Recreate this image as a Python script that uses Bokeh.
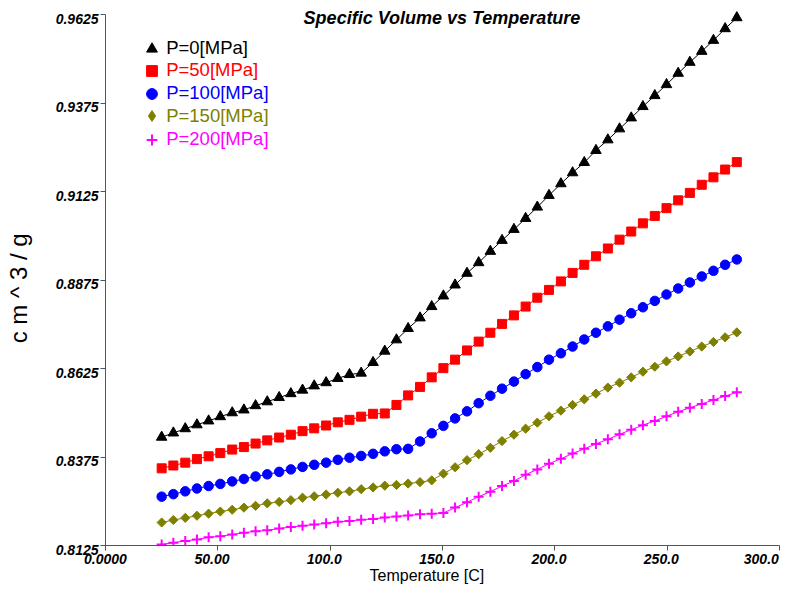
from bokeh.plotting import figure
from bokeh.models import Range1d, FixedTicker, Legend, LegendItem, Label
from bokeh.embed import file_html
from bokeh.resources import INLINE
import numpy as np

temperature = [25.0, 30.2, 35.5, 40.7, 45.9, 51.1, 56.4, 61.6, 66.8, 72.0,
               77.3, 82.5, 87.7, 92.9, 98.2, 103.4, 108.6, 113.8, 119.1, 124.3,
               129.5, 134.7, 140.0, 145.2, 150.4, 155.6, 160.9, 166.1, 171.3, 176.5,
               181.8, 187.0, 192.2, 197.4, 202.7, 207.9, 213.1, 218.3, 223.6, 228.8,
               234.0, 239.2, 244.5, 249.7, 254.9, 260.1, 265.4, 270.6, 275.8, 281.0]

p0 = [0.8431, 0.8443, 0.8455, 0.8466, 0.8477, 0.8489, 0.8500, 0.8508, 0.8520, 0.8531,
      0.8543, 0.8554, 0.8564, 0.8576, 0.8585, 0.8597, 0.8608, 0.8612, 0.8642, 0.8674,
      0.8706, 0.8738, 0.8768, 0.8800, 0.8830, 0.8861, 0.8894, 0.8924, 0.8956, 0.8987,
      0.9018, 0.9049, 0.9081, 0.9114, 0.9147, 0.9178, 0.9207, 0.9241, 0.9271, 0.9302,
      0.9333, 0.9365, 0.9396, 0.9427, 0.9459, 0.9490, 0.9521, 0.9552, 0.9585, 0.9616]

p50 = [0.8343, 0.8351, 0.8359, 0.8369, 0.8377, 0.8386, 0.8396, 0.8403, 0.8413, 0.8422,
       0.8430, 0.8438, 0.8448, 0.8456, 0.8464, 0.8473, 0.8480, 0.8489, 0.8497, 0.8498,
       0.8522, 0.8549, 0.8573, 0.8600, 0.8626, 0.8650, 0.8676, 0.8701, 0.8726, 0.8751,
       0.8775, 0.8800, 0.8825, 0.8847, 0.8871, 0.8895, 0.8918, 0.8942, 0.8964, 0.8989,
       0.9012, 0.9035, 0.9056, 0.9078, 0.9100, 0.9121, 0.9144, 0.9165, 0.9187, 0.9208]

p100 = [0.8263, 0.8270, 0.8278, 0.8286, 0.8293, 0.8299, 0.8306, 0.8313, 0.8320, 0.8326,
        0.8333, 0.8340, 0.8347, 0.8353, 0.8359, 0.8367, 0.8373, 0.8378, 0.8384, 0.8391,
        0.8397, 0.8398, 0.8419, 0.8442, 0.8463, 0.8484, 0.8504, 0.8527, 0.8548, 0.8568,
        0.8588, 0.8609, 0.8629, 0.8650, 0.8668, 0.8687, 0.8707, 0.8726, 0.8744, 0.8763,
        0.8781, 0.8798, 0.8816, 0.8834, 0.8851, 0.8868, 0.8885, 0.8901, 0.8918, 0.8933]

p150 = [0.8190, 0.8197, 0.8203, 0.8209, 0.8215, 0.8221, 0.8226, 0.8232, 0.8237, 0.8244,
        0.8248, 0.8253, 0.8260, 0.8264, 0.8269, 0.8274, 0.8278, 0.8284, 0.8289, 0.8294,
        0.8296, 0.8300, 0.8304, 0.8309, 0.8328, 0.8346, 0.8366, 0.8383, 0.8401, 0.8420,
        0.8438, 0.8455, 0.8472, 0.8490, 0.8506, 0.8522, 0.8538, 0.8554, 0.8571, 0.8585,
        0.8600, 0.8616, 0.8630, 0.8645, 0.8659, 0.8673, 0.8687, 0.8700, 0.8713, 0.8727]

p200 = [0.8128, 0.8133, 0.8138, 0.8142, 0.8148, 0.8151, 0.8156, 0.8161, 0.8165, 0.8168,
        0.8173, 0.8177, 0.8181, 0.8184, 0.8188, 0.8192, 0.8194, 0.8198, 0.8200, 0.8204,
        0.8207, 0.8210, 0.8213, 0.8215, 0.8217, 0.8232, 0.8247, 0.8263, 0.8277, 0.8293,
        0.8307, 0.8325, 0.8340, 0.8356, 0.8370, 0.8385, 0.8398, 0.8412, 0.8425, 0.8439,
        0.8452, 0.8465, 0.8477, 0.8490, 0.8503, 0.8514, 0.8525, 0.8536, 0.8547, 0.8558]

series_labels = ["P=0[MPa]", "P=50[MPa]", "P=100[MPa]", "P=150[MPa]", "P=200[MPa]"]
series_values = [p0, p50, p100, p150, p200]
series_colors = ["#000000", "#ff0000", "#0000ff", "#808000", "#ff00ff"]

x_ticks = [0, 50, 100, 150, 200, 250, 300]
x_tick_labels = ["0.0000", "50.00", "100.0", "150.0", "200.0", "250.0", "300.0"]
y_ticks = [0.8125, 0.8375, 0.8625, 0.8875, 0.9125, 0.9375, 0.9625]
y_tick_labels = ["0.8125", "0.8375", "0.8625", "0.8875", "0.9125", "0.9375", "0.9625"]

title_text = "Specific Volume vs Temperature"
x_label = "Temperature [C]"
y_label = "c m ^ 3 / g"

FONT = "Liberation Sans"
NB = "\u00a0"

Y_MIN, Y_MAX = 0.8125, 0.9625
Y_TOP = Y_MAX + 10 / 3540.0   # a little headroom so the in-plot title is not clipped

p = figure(width=790, height=598,
           x_range=Range1d(0, 300), y_range=Range1d(Y_MIN, Y_TOP),
           output_backend="svg", toolbar_location=None,
           min_border_left=105, min_border_right=11,
           min_border_top=4, min_border_bottom=53)
p.grid.visible = False
p.outline_line_color = None
p.background_fill_color = "white"
p.border_fill_color = "white"

p.xaxis.ticker = FixedTicker(ticks=x_ticks)
p.yaxis.ticker = FixedTicker(ticks=y_ticks)
p.yaxis.bounds = (Y_MIN, Y_MAX)
p.xaxis.major_label_overrides = {t: (lab if t == 0 else lab + NB * 3)
                                 for t, lab in zip(x_ticks, x_tick_labels)}
p.yaxis.major_label_overrides = {t: "\n" + lab for t, lab in zip(y_ticks, y_tick_labels)}
p.yaxis.major_label_text_line_height = 0.5

for ax in (p.xaxis, p.yaxis):
    ax.axis_line_color = "#555555"
    ax.major_tick_line_color = "#555555"
    ax.minor_tick_line_color = None
    ax.major_tick_in = 0
    ax.major_tick_out = 5
    ax.major_label_text_font = FONT
    ax.major_label_text_font_style = "bold italic"
    ax.major_label_text_font_size = "14px"
    ax.major_label_text_color = "black"
    ax.axis_label_text_font_style = "normal"
    ax.axis_label_text_color = "black"

p.xaxis.major_label_standoff = 0
p.yaxis.major_label_standoff = 2

p.xaxis.axis_label = x_label + NB * 7
p.xaxis.axis_label_text_font = FONT
p.xaxis.axis_label_text_font_size = "16px"
p.xaxis.axis_label_standoff = -3

p.yaxis.axis_label = y_label + NB * 4
p.yaxis.axis_label_text_font = FONT
p.yaxis.axis_label_text_font_size = "24px"
p.yaxis.axis_label_standoff = 21

markers = ["triangle", "square", "circle", "square", "cross"]
sizes = [10.5, 9, 9.5, 6.5, 10]
angles = [0, 0, 0, np.pi / 4, 0]
legend_markers = ["triangle", "square", "circle", "diamond", "cross"]

legend_renderers = []
for vals, col, mk, sz, ang, lmk in zip(series_values, series_colors, markers, sizes,
                                       angles, legend_markers):
    p.line(temperature, vals, line_color=col, line_width=1)
    if mk == "cross":
        r = p.scatter(temperature, vals, marker=mk, size=sz, line_color=col, line_width=2)
    else:
        r = p.scatter(temperature, vals, marker=mk, size=sz, fill_color=col,
                      line_color=col, angle=ang)
    if lmk != mk:
        # zero-size twin of the series, used only so the key shows a diamond shape
        r = p.scatter(temperature, vals, marker=lmk, size=0, fill_color=col, line_color=col)
    legend_renderers.append(r)

row_centers = [497, 475, 451.7, 429.3, 406]   # screen px above the frame bottom
G = 27
for lab, col, r, cy in zip(series_labels, series_colors, legend_renderers, row_centers):
    leg = Legend(items=[LegendItem(label=lab, renderers=[r])],
                 location=(46.7 - G / 2, cy - G / 2),
                 glyph_width=G, glyph_height=G,
                 label_standoff=1,
                 label_text_font=FONT, label_text_font_size="18.5px",
                 label_text_color=col, label_text_baseline="middle",
                 label_height=G,
                 padding=0, margin=0, spacing=0,
                 border_line_color=None, background_fill_alpha=0)
    p.add_layout(leg)

title = Label(x=336.5, y=527.5, x_units="screen", y_units="screen", text=title_text,
              text_align="center", text_baseline="middle", text_font=FONT,
              text_font_style="bold italic", text_font_size="18px", text_color="black")
p.add_layout(title)

open("out.html", "w").write(file_html(p, INLINE))
